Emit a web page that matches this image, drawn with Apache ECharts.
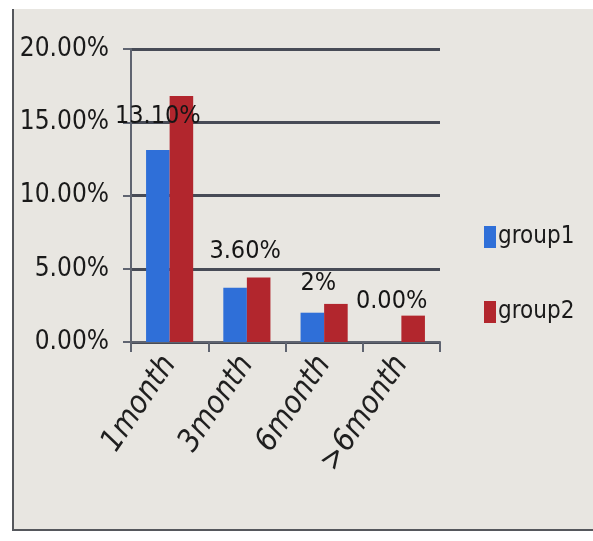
<!DOCTYPE html>
<html>
<head>
<meta charset="utf-8">
<script src="https://cdn.jsdelivr.net/npm/echarts@6/dist/echarts.min.js"></script>
<style>
  html, body { margin: 0; padding: 0; background: #ffffff; }
  #wrap { position: absolute; left: 0; top: 0; width: 593px; height: 541px; background: #ffffff; }
  #frame { position: absolute; left: 12px; top: 9px; width: 581px; height: 520px;
    background: #e8e6e1; border-left: 2px solid #55575c; border-bottom: 2px solid #55575c; }
  #chart { position: absolute; left: 0; top: 0; width: 593px; height: 541px; }
</style>
</head>
<body>
<div id="wrap">
  <div id="frame"></div>
  <div id="chart"></div>
</div>
<script>
  // 数据
  const categories = ['1month', '3month', '6month', '>6month']
  const group1 = [13.1, 3.7, 2.0, 0]
  const group2 = [16.8, 4.4, 2.6, 1.8]
  const group1Labels = ['13.10%', '3.60%', '2%', '0.00%']
  const yTicks = [0, 5, 10, 15, 20]

  const fontFamily = '"Liberation Sans Narrow", "DejaVu Sans Condensed", "Open Sans", sans-serif'
  // 标签的手动偏移（Excel 里被拖动过）
  const labelOffsets = [[0, -16], [10, -19], [6, -12], [2, -23]]

  const chart = echarts.init(document.getElementById('chart'), null, { renderer: 'canvas' })
  const option = {
    backgroundColor: 'transparent',
    grid: { left: 131, right: 153, top: 49, bottom: 199, containLabel: false },
    legend: {
      orient: 'vertical',
      left: 479,
      top: 220,
      itemWidth: 12,
      itemHeight: 22,
      itemGap: 51,
      icon: 'rect',
      textStyle: { fontFamily: fontFamily, fontSize: 24, color: '#1a1a1a', padding: [0, 0, 0, -3] },
      data: ['group1', 'group2']
    },
    xAxis: {
      type: 'category',
      data: categories,
      axisLine: { lineStyle: { color: '#5f6470', width: 2 } },
      axisTick: { show: true, length: 10, lineStyle: { color: '#5f6470', width: 2 } },
      axisLabel: {
        rotate: 56,
        margin: 17,
        fontFamily: fontFamily,
        fontStyle: 'italic',
        fontSize: 31,
        color: '#1f1f1f'
      }
    },
    yAxis: {
      type: 'value',
      min: yTicks[0],
      max: yTicks[yTicks.length - 1],
      interval: 5,
      axisLine: { show: true, lineStyle: { color: '#5f6470', width: 2 } },
      axisTick: { show: true, length: 8, lineStyle: { color: '#5f6470', width: 2 } },
      axisLabel: {
        margin: 22,
        fontFamily: fontFamily,
        fontSize: 26,
        color: '#1a1a1a',
        formatter: (v) => v.toFixed(2) + '%'
      },
      splitLine: { lineStyle: { color: '#474b56', width: 3 } }
    },
    series: [
      {
        name: 'group1',
        type: 'bar',
        barGap: 0,
        barCategoryGap: '39%',
        itemStyle: { color: '#2f6fd8' },
        data: group1.map((v, i) => ({
          value: v,
          label: {
            show: true,
            position: 'top',
            offset: labelOffsets[i],
            formatter: group1Labels[i],
            fontFamily: fontFamily,
            fontSize: 25,
            color: '#151515'
          }
        })),
        z: 2
      },
      {
        name: 'group2',
        type: 'bar',
        itemStyle: { color: '#b2262d' },
        data: group2,
        z: 2
      }
    ]
  }
  chart.setOption(option)
</script>
</body>
</html>
